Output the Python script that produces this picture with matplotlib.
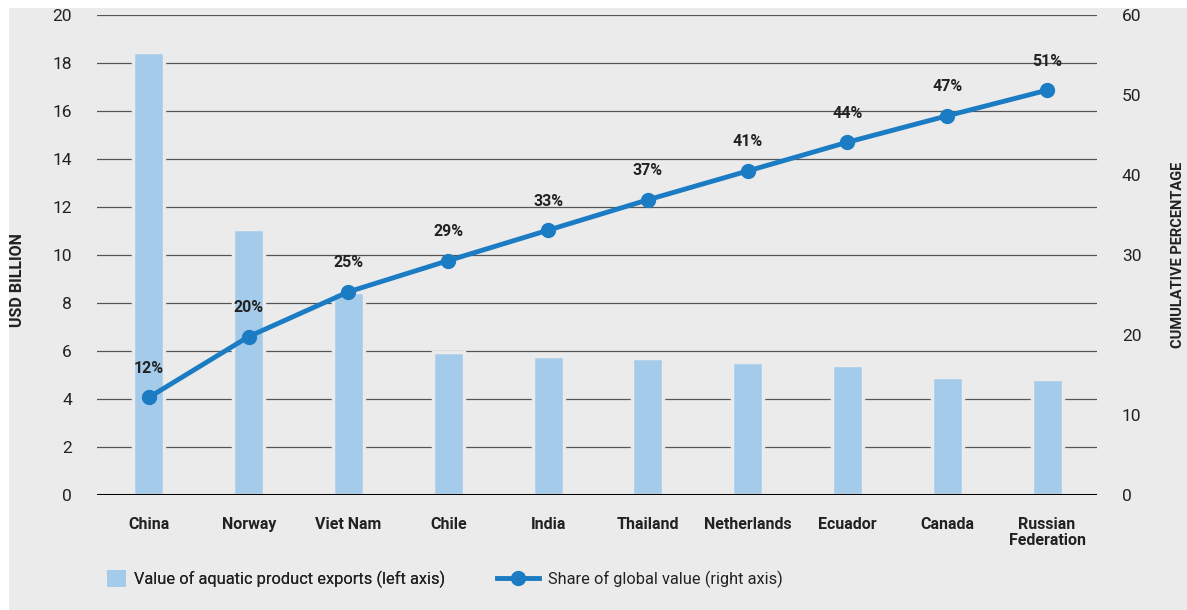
import matplotlib
matplotlib.use('Agg')
import matplotlib.pyplot as plt
from matplotlib.patches import Rectangle
from matplotlib.lines import Line2D
import numpy as np

plt.rcParams['font.family'] = ['Roboto', 'DejaVu Sans']

# Data
countries = ['China', 'Norway', 'Viet Nam', 'Chile', 'India', 'Thailand',
             'Netherlands', 'Ecuador', 'Canada', 'Russian\nFederation']
exports_usd_bn = [18.45, 11.1, 8.45, 5.95, 5.8, 5.72, 5.55, 5.42, 4.9, 4.85]
cumulative_share = [12.2, 19.8, 25.4, 29.3, 33.1, 36.9, 40.5, 44.1, 47.4, 50.6]
share_labels = ['12%', '20%', '25%', '29%', '33%', '37%', '41%', '44%', '47%', '51%']

bg = '#ebebeb'
bar_color = '#a4cbea'
line_color = '#1b7cc4'
text_color = '#222222'

fig = plt.figure(figsize=(11.87, 6.10), dpi=100, facecolor='white')
# grey panel (white strips at top and left)
fig.patches.append(Rectangle((9 / 1187, 0), 1, 1 - 8 / 610, transform=fig.transFigure,
                             facecolor=bg, edgecolor='none', zorder=-10))

ax = fig.add_axes([97 / 1187, 115 / 610, 1000 / 1187, 480 / 610])
ax.set_facecolor(bg)
x = np.arange(len(countries))

ax.bar(x, exports_usd_bn, width=0.31, color=bar_color, edgecolor=bg,
       linewidth=2.5, zorder=2)
ax.set_ylim(0, 20)
ax.set_xlim(-0.52, 9.5)
ax.set_yticks(np.arange(0, 21, 2))
ax.yaxis.grid(True, color='#555555', linewidth=0.9, zorder=0)
ax.set_axisbelow(True)
ax.axhline(0, color='black', linewidth=2.2, zorder=3)
for s in ax.spines.values():
    s.set_visible(False)
ax.tick_params(axis='y', length=0, pad=18, labelsize=12.5, labelcolor=text_color)
ax.tick_params(axis='x', length=0, pad=16, labelsize=11.5)
ax.set_xticks(x)
ax.set_xticklabels(countries, fontweight='bold', color=text_color, linespacing=1.05)

ax2 = ax.twinx()
for s in ax2.spines.values():
    s.set_visible(False)
ax2.set_ylim(0, 60)
ax2.set_yticks(np.arange(0, 61, 10))
ax2.tick_params(axis='y', length=0, pad=18, labelsize=12.5, labelcolor=text_color)
ax2.plot(x, cumulative_share, color=line_color, linewidth=3.5, marker='o',
         markersize=10, zorder=5)
for xi, yi, lab in zip(x, cumulative_share, share_labels):
    ax2.annotate(lab, (xi, yi), xytext=(0, 21), textcoords='offset points',
                 ha='center', va='center', fontsize=11.5, fontweight='bold',
                 color=text_color)

# axis titles
fig.text(18 / 1187, 1 - 280 / 610, 'USD BILLION', rotation=90, ha='center', va='center',
         fontsize=11.5, fontweight='bold', color=text_color)
fig.text(1178 / 1187, 1 - 255 / 610, 'CUMULATIVE PERCENTAGE', rotation=90, ha='center',
         va='center', fontsize=10.5, fontweight='bold', color=text_color)

# legend: two separate pieces so the square swatch and the line handle differ in length
leg1 = fig.legend([Rectangle((0, 0), 1, 1, facecolor=bar_color, edgecolor='none')],
                  ['Value of aquatic product exports (left axis)'],
                  loc='center left', bbox_to_anchor=(92 / 1187, 1 - 579 / 610),
                  frameon=False, fontsize=11.8, handlelength=1.15, handleheight=1.15,
                  handletextpad=0.5, labelcolor=text_color)
fig.add_artist(leg1)
fig.legend([Line2D([0], [0], color=line_color, linewidth=3.5, marker='o', markersize=10)],
           ['Share of global value (right axis)'],
           loc='center left', bbox_to_anchor=(482 / 1187, 1 - 579 / 610),
           frameon=False, fontsize=11.8, handlelength=2.6, handletextpad=0.5,
           labelcolor=text_color)

fig.savefig('out.png', dpi=100, facecolor=fig.get_facecolor())
